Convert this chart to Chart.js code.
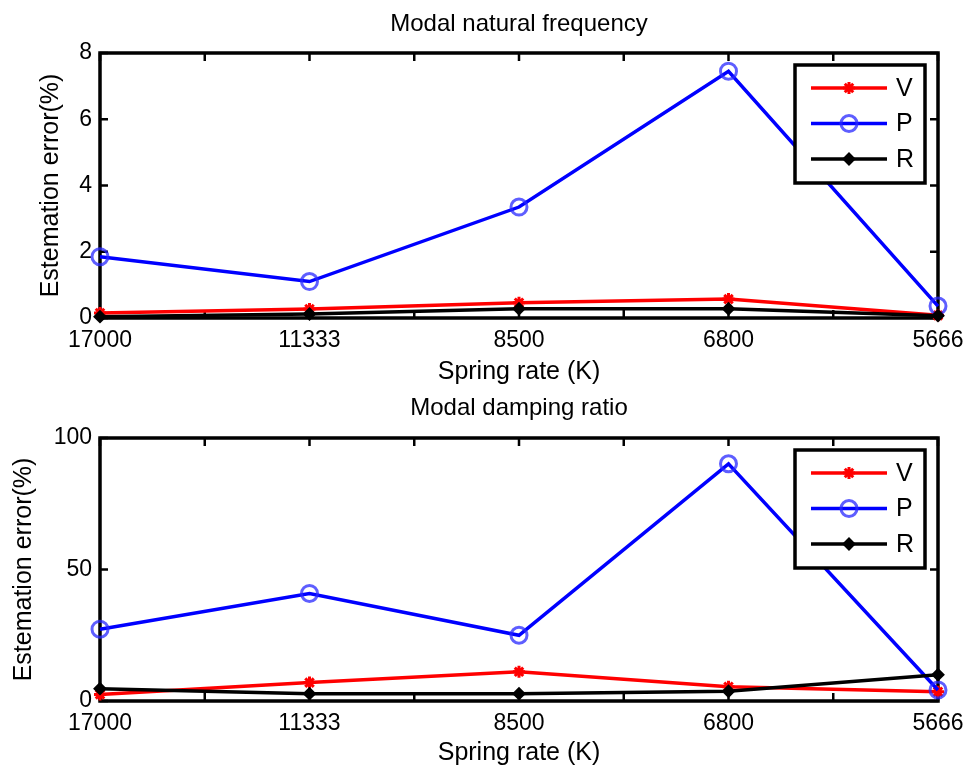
<!DOCTYPE html>
<html lang="en">
<head>
<meta charset="UTF-8">
<title>Estemation error vs spring rate</title>
<script src="https://cdn.jsdelivr.net/npm/chart.js"></script>
<style>
  html, body { margin: 0; padding: 0; background: #fff; }
  canvas { position: absolute; left: 0; }
</style>
</head>
<body>
<canvas id="freqChart" width="965" height="385" style="top:0"></canvas>
<canvas id="dampChart" width="965" height="384" style="top:385px"></canvas>
<script>
const springRates = ['17000', '11333', '8500', '6800', '5666'];

// modal natural frequency, estimation error (%)
const freqV = [0.15, 0.27, 0.46, 0.57, 0.08];
const freqP = [1.85, 1.10, 3.35, 7.45, 0.36];
const freqR = [0.04, 0.12, 0.28, 0.28, 0.07];

// modal damping ratio, estimation error (%)
const dampV = [2.5, 7.0, 11.1, 5.4, 3.5];
const dampP = [27.3, 40.9, 25.0, 90.2, 4.2];
const dampR = [4.7, 2.8, 2.8, 3.7, 10.0];

const freqYTicks = [0, 2, 4, 6, 8];
const dampYTicks = [0, 50, 100];

Chart.defaults.font.family = "'Liberation Sans', Arial, sans-serif";
Chart.defaults.color = '#000';

const TICK_FONT = 23;
const LABEL_FONT = 25;
const TITLE_FONT = 24;

// series look (marker styles like the matlab figure)
const seriesStyle = {
    V: { color: '#ff0000', pointStyle: 'star', radius: 6, borderWidth: 3, fill: '#ff0000' },
    P: { color: '#0000ff', pointStyle: 'circle', radius: 8, borderWidth: 3, fill: 'rgba(0,0,0,0)', marker: 'rgba(40,40,255,0.75)' },
    R: { color: '#000000', pointStyle: 'rectRot', radius: 5.5, borderWidth: 2, fill: '#000000' }
};

function toPoints(values) {
    return values.map((v, i) => ({ x: i + 1, y: v }));
}

function makeDataset(name, values, order) {
    const s = seriesStyle[name];
    return {
        label: name,
        data: toPoints(values),
        borderColor: s.color,
        borderWidth: 3.5,
        pointStyle: s.pointStyle,
        pointRadius: s.radius,
        pointBorderWidth: s.borderWidth,
        pointBorderColor: s.marker || s.color,
        pointBackgroundColor: s.fill,
        tension: 0,
        clip: false,
        order: order
    };
}

// box around the plot + inward tick marks on all four sides
const framePlugin = {
    id: 'frame',
    beforeDatasetsDraw(chart) {
        const { ctx, chartArea: a, scales } = chart;
        const len = 8;
        ctx.save();
        ctx.strokeStyle = '#000';
        ctx.lineWidth = 2.5;
        ctx.beginPath();
        scales.x.ticks.forEach(t => {
            const px = scales.x.getPixelForValue(t.value);
            ctx.moveTo(px, a.bottom); ctx.lineTo(px, a.bottom - len);
            ctx.moveTo(px, a.top); ctx.lineTo(px, a.top + len);
        });
        scales.y.ticks.forEach(t => {
            const py = scales.y.getPixelForValue(t.value);
            ctx.moveTo(a.left, py); ctx.lineTo(a.left + len, py);
            ctx.moveTo(a.right, py); ctx.lineTo(a.right - len, py);
        });
        ctx.stroke();
        ctx.lineWidth = 3.5;
        ctx.strokeRect(a.left, a.top, a.right - a.left, a.bottom - a.top);
        ctx.restore();
    }
};

// matlab-style legend box in the upper right corner
const boxLegendPlugin = {
    id: 'boxLegend',
    afterDatasetsDraw(chart) {
        const { ctx, chartArea: a } = chart;
        const w = 130, h = 118;
        const left = a.right - 13 - w, top = a.top + 12;
        ctx.save();
        ctx.fillStyle = '#fff';
        ctx.fillRect(left, top, w, h);
        ctx.strokeStyle = '#000';
        ctx.lineWidth = 3.5;
        ctx.strokeRect(left, top, w, h);
        ctx.font = LABEL_FONT + "px 'Liberation Sans', Arial, sans-serif";
        ctx.textBaseline = 'middle';
        chart.data.datasets.forEach((ds, i) => {
            const s = seriesStyle[ds.label];
            const y = top + 23 + i * 35.5;
            ctx.strokeStyle = s.color;
            ctx.lineWidth = 3.5;
            ctx.beginPath();
            ctx.moveTo(left + 16, y);
            ctx.lineTo(left + 92, y);
            ctx.stroke();
            ctx.strokeStyle = s.marker || s.color;
            ctx.fillStyle = s.fill;
            ctx.lineWidth = s.borderWidth;
            Chart.helpers.drawPoint(ctx, { pointStyle: s.pointStyle, radius: s.radius, borderWidth: s.borderWidth, rotation: 0 }, left + 54, y);
            ctx.fillStyle = '#000';
            ctx.fillText(ds.label, left + 101, y + 1);
        });
        ctx.restore();
    }
};

function makeChart(id, title, v, p, r, yTicks, titleY, yTitlePad, xAxisHeight, xTitlePad) {
    const last = springRates.length;
    return new Chart(document.getElementById(id), {
        type: 'line',
        data: {
            datasets: [makeDataset('V', v, 2), makeDataset('P', p, 1), makeDataset('R', r, 0)]
        },
        options: {
            responsive: false,
            animation: false,
            events: [],
            layout: { padding: { left: 0, right: 27, top: 0, bottom: 0 } },
            plugins: {
                legend: { display: false },
                tooltip: { enabled: false },
                title: {
                    display: true,
                    text: title,
                    fullSize: false,
                    font: { size: TITLE_FONT, weight: 'normal' },
                    padding: { top: titleY - TITLE_FONT * 0.6, bottom: 53 - titleY - TITLE_FONT * 0.6 }
                }
            },
            scales: {
                x: {
                    type: 'linear',
                    min: 1,
                    max: last,
                    afterBuildTicks: s => {
                        const t = [];
                        for (let i = 1; i <= last; i++) {
                            t.push({ value: i });
                            if (i < last) t.push({ value: i + 0.5 });
                        }
                        s.ticks = t;
                    },
                    afterFit: s => {
                        s.height = xAxisHeight;
                        s.paddingLeft = 0;
                        s.paddingRight = 0;
                    },
                    grid: { display: false, drawTicks: false },
                    border: { display: false },
                    ticks: {
                        autoSkip: false,
                        maxRotation: 0,
                        padding: 9,
                        font: { size: TICK_FONT },
                        callback: v => Number.isInteger(v) ? springRates[v - 1] : ''
                    },
                    title: {
                        display: true,
                        text: 'Spring rate (K)',
                        font: { size: LABEL_FONT },
                        padding: { top: 0, bottom: xTitlePad }
                    }
                },
                y: {
                    min: yTicks[0],
                    max: yTicks[yTicks.length - 1],
                    afterBuildTicks: s => { s.ticks = yTicks.map(v => ({ value: v })); },
                    afterFit: s => { s.width = 100; },
                    grid: { display: false, drawTicks: false },
                    border: { display: false },
                    ticks: { padding: 8, font: { size: TICK_FONT } },
                    title: {
                        display: true,
                        text: 'Estemation error(%)',
                        font: { size: LABEL_FONT },
                        padding: { top: yTitlePad, bottom: 0 }
                    }
                }
            }
        },
        plugins: [framePlugin, boxLegendPlugin]
    });
}

makeChart('freqChart', 'Modal natural frequency', freqV, freqP, freqR, freqYTicks, 24, 36, 67, -2);
makeChart('dampChart', 'Modal damping ratio', dampV, dampP, dampR, dampYTicks, 23, 9, 68, 1);
</script>
</body>
</html>
